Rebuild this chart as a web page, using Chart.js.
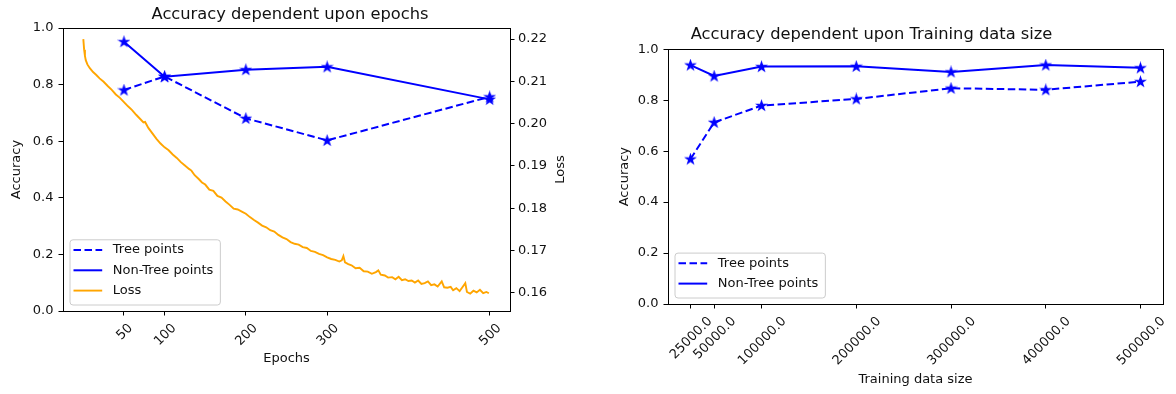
<!DOCTYPE html>
<html><head><meta charset="utf-8">
<script src="https://cdn.jsdelivr.net/npm/chart.js@4.4.1/dist/chart.umd.min.js"></script>
<style>
html,body{margin:0;padding:0;background:#fff;}
#wrap{position:relative;width:1176px;height:394px;overflow:hidden;background:#fff;}
canvas{position:absolute;top:0;}
#c1{left:0;} #c2{left:580px;}
</style></head><body>
<div id="wrap"><canvas id="c1" width="580" height="394"></canvas><canvas id="c2" width="596" height="394"></canvas></div>
<script>
// ---------- data ----------
const epochs = [50, 100, 200, 300, 500];
const epochTickLabels = ['50', '100', '200', '300', '500'];
const epochTreeAcc = [0.781, 0.829, 0.681, 0.603, 0.757];
const epochNonTreeAcc = [0.952, 0.828, 0.853, 0.863, 0.748];

const lossEpochs = [
  0,1,2,3,5,8,12,16,20,25,
  30,35,40,45,50,55,60,65,70,74,
  76,80,85,90,95,100,105,110,115,120,
  125,130,133,137,142,146,150,155,160,165,
  170,175,180,185,190,195,200,205,210,215,
  220,225,230,235,240,245,250,255,260,265,
  270,275,280,285,290,295,300,305,310,315,
  318,320,322,326,330,335,340,345,350,355,
  360,363,366,371,375,380,384,388,392,396,
  400,404,408,412,416,420,424,428,432,436,
  441,444,448,452,455,459,463,466,470,472,
  476,480,484,488,492,496,499
];
const lossValues = [
  0.2200,0.2175,0.2160,0.2150,0.2140,0.2131,0.2122,0.2115,0.2107,0.2099,
  0.2089,0.2080,0.2069,0.2061,0.2051,0.2041,0.2032,0.2021,0.2011,0.2003,
  0.2004,0.1990,0.1977,0.1964,0.1953,0.1944,0.1937,0.1927,0.1919,0.1909,
  0.1901,0.1893,0.1889,0.1878,0.1869,0.1861,0.1856,0.1844,0.1841,0.1829,
  0.1825,0.1816,0.1808,0.1799,0.1797,0.1792,0.1787,0.1779,0.1772,0.1766,
  0.1759,0.1755,0.1748,0.1745,0.1737,0.1731,0.1727,0.1720,0.1716,0.1714,
  0.1708,0.1706,0.1699,0.1697,0.1692,0.1689,0.1684,0.1680,0.1678,0.1674,
  0.1677,0.1687,0.1672,0.1668,0.1665,0.1658,0.1659,0.1651,0.1650,0.1645,
  0.1649,0.1653,0.1643,0.1641,0.1636,0.1637,0.1632,0.1638,0.1630,0.1632,
  0.1628,0.1629,0.1624,0.1629,0.1621,0.1623,0.1627,0.1618,0.1620,0.1615,
  0.1627,0.1613,0.1612,0.1614,0.1606,0.1611,0.1604,0.1612,0.1623,0.1602,
  0.1598,0.1605,0.1601,0.1607,0.1599,0.1602,0.1599
];

const accTicks = [0, 0.2, 0.4, 0.6, 0.8, 1.0];
const accTickLabels = ['0.0', '0.2', '0.4', '0.6', '0.8', '1.0'];
const lossTicks = [0.16, 0.17, 0.18, 0.19, 0.20, 0.21, 0.22];
const lossTickLabels = ['0.16', '0.17', '0.18', '0.19', '0.20', '0.21', '0.22'];

const sizes = [25000, 50000, 100000, 200000, 300000, 400000, 500000];
const sizeTickLabels = ['25000.0', '50000.0', '100000.0', '200000.0', '300000.0', '400000.0', '500000.0'];
const sizeTreeAcc = [0.569, 0.713, 0.779, 0.805, 0.847, 0.841, 0.873];
const sizeNonTreeAcc = [0.938, 0.895, 0.932, 0.933, 0.911, 0.938, 0.927];

// ---------- styling ----------
const FAMILY = '"DejaVu Sans", "Liberation Sans", sans-serif';
const TICK_FS = 13;
const LEG_FS = 13;
const TITLE_FS = 16.3;
const TXT = '#111';
const BLUE = '#0000ff';
const ORANGE = '#ffa500';

Chart.defaults.font.family = FAMILY;
Chart.defaults.color = TXT;
Chart.defaults.animation = false;

const star = (() => {
  const c = document.createElement('canvas');
  c.width = 13; c.height = 13;
  const g = c.getContext('2d');
  g.fillStyle = BLUE; g.strokeStyle = BLUE; g.lineWidth = 1.1; g.lineJoin = 'miter';
  g.beginPath();
  for (let i = 0; i < 10; i++) {
    const r = i % 2 ? 1.9 : 5.0;
    const a = -Math.PI / 2 + i * Math.PI / 5;
    const px = 6.5 + r * Math.cos(a), py = 6.8 + r * Math.sin(a);
    if (i) g.lineTo(px, py); else g.moveTo(px, py);
  }
  g.closePath(); g.fill(); g.stroke();
  return c;
})();

function fixSize(prop, size) {
  return s => {
    s[prop] = size;
    s.paddingLeft = 0; s.paddingRight = 0; s.paddingTop = 0; s.paddingBottom = 0;
  };
}
function setTicks(vals) {
  return s => { s.ticks = vals.map(v => ({ value: v })); };
}
const gridOpts = { drawOnChartArea: false, drawTicks: true, tickLength: 4.5, color: '#000', lineWidth: 1 };

function roundRect(ctx, x, y, w, h, r) {
  ctx.beginPath();
  ctx.moveTo(x + r, y);
  ctx.lineTo(x + w - r, y); ctx.quadraticCurveTo(x + w, y, x + w, y + r);
  ctx.lineTo(x + w, y + h - r); ctx.quadraticCurveTo(x + w, y + h, x + w - r, y + h);
  ctx.lineTo(x + r, y + h); ctx.quadraticCurveTo(x, y + h, x, y + h - r);
  ctx.lineTo(x, y + r); ctx.quadraticCurveTo(x, y, x + r, y);
  ctx.closePath();
}

const decor = {
  id: 'decor',
  afterDraw(chart, args, opts) {
    const ctx = chart.ctx, ca = chart.chartArea;
    ctx.save();
    // full frame (all four spines)
    ctx.strokeStyle = '#000'; ctx.lineWidth = 1; ctx.setLineDash([]);
    ctx.strokeRect(Math.round(ca.left) + 0.5, Math.round(ca.top) + 0.5,
                   Math.round(ca.right) - Math.round(ca.left), Math.round(ca.bottom) - Math.round(ca.top));
    // rotated x tick labels, centred under ticks
    const xs = chart.scales.x;
    ctx.fillStyle = TXT;
    ctx.font = TICK_FS + 'px ' + FAMILY;
    xs.ticks.forEach((t, i) => {
      const txt = opts.xLabels[i];
      const x = xs.getPixelForValue(t.value);
      const w = ctx.measureText(txt).width, h = TICK_FS * 1.164;
      const cy = ca.bottom + opts.labelGap + (w + h) * Math.SQRT1_2 / 2;
      ctx.save();
      ctx.translate(x, cy); ctx.rotate(-Math.PI / 4);
      ctx.textAlign = 'center'; ctx.textBaseline = 'alphabetic';
      ctx.fillText(txt, 0, TICK_FS * 0.346);
      ctx.restore();
    });
    // secondary axis title
    if (opts.rightTitle) {
      ctx.save();
      ctx.font = TICK_FS + 'px ' + FAMILY;
      ctx.translate(opts.rightTitleX, (ca.top + ca.bottom) / 2);
      ctx.rotate(-Math.PI / 2);
      ctx.textAlign = 'center'; ctx.textBaseline = 'middle';
      ctx.fillText(opts.rightTitle, 0, 0);
      ctx.restore();
    }
    // legend (lower left inside axes)
    const ds = chart.data.datasets;
    ctx.font = LEG_FS + 'px ' + FAMILY;
    const textW = Math.max(...ds.map(d => ctx.measureText(d.label).width));
    const rowH = 20.3;
    const boxW = 43.3 + textW + 6.5, boxH = ds.length * rowH + 4.3;
    const left = ca.left + 6.5, top = ca.bottom - 6.5 - boxH;
    roundRect(ctx, left + 0.5, top + 0.5, boxW, boxH, 3);
    ctx.fillStyle = 'rgba(255,255,255,0.8)'; ctx.fill();
    ctx.strokeStyle = '#cccccc'; ctx.lineWidth = 1; ctx.stroke();
    ds.forEach((d, i) => {
      const y = top + 10.7 + i * rowH;
      ctx.strokeStyle = d.borderColor; ctx.lineWidth = d.borderWidth;
      ctx.setLineDash(d.borderDash || []);
      ctx.beginPath(); ctx.moveTo(left + 4, y); ctx.lineTo(left + 32.7, y); ctx.stroke();
      ctx.setLineDash([]);
      ctx.fillStyle = TXT; ctx.textAlign = 'left'; ctx.textBaseline = 'middle';
      ctx.fillText(d.label, left + 43.3, y);
    });
    ctx.restore();
  }
};

const bg = {
  id: 'bg',
  beforeDraw(chart) {
    const c = chart.ctx; c.save(); c.fillStyle = '#fff'; c.fillRect(0, 0, chart.width, chart.height); c.restore();
  }
};

const tickFont = { family: FAMILY, size: TICK_FS };

// ---------- chart 1: epochs ----------
new Chart(document.getElementById('c1'), {
  type: 'line',
  data: {
    datasets: [
      { label: 'Tree points', data: epochs.map((e, i) => ({ x: e, y: epochTreeAcc[i] })), yAxisID: 'y',
        borderColor: BLUE, borderWidth: 2, borderDash: [7.5, 3.5], pointStyle: star, pointRadius: 5, tension: 0 },
      { label: 'Non-Tree points', data: epochs.map((e, i) => ({ x: e, y: epochNonTreeAcc[i] })), yAxisID: 'y',
        borderColor: BLUE, borderWidth: 2, pointStyle: star, pointRadius: 5, tension: 0 },
      { label: 'Loss', data: lossEpochs.map((e, i) => ({ x: e, y: lossValues[i] })), yAxisID: 'y2',
        borderColor: ORANGE, borderWidth: 1.9, pointRadius: 0, tension: 0 }
    ]
  },
  options: {
    responsive: false, animation: false, devicePixelRatio: 1,
    layout: { padding: 0 },
    plugins: {
      legend: { display: false }, tooltip: { enabled: false },
      title: { display: true, text: 'Accuracy dependent upon epochs', color: TXT,
               font: { family: FAMILY, size: TITLE_FS, weight: 'normal' }, padding: { top: 4.7, bottom: 3.8 } },
      decor: { xLabels: epochTickLabels, labelGap: 9, rightTitle: 'Loss', rightTitleX: 561 }
    },
    scales: {
      x: { type: 'linear', position: 'bottom', min: -25, max: 525,
           afterBuildTicks: setTicks(epochs), afterFit: fixSize('height', 83),
           ticks: { display: false }, grid: gridOpts, border: { display: false },
           title: { display: true, text: 'Epochs', color: TXT, font: tickFont, padding: { top: 0, bottom: 27.9 } } },
      y: { type: 'linear', position: 'left', min: 0, max: 1,
           afterBuildTicks: setTicks(accTicks), afterFit: fixSize('width', 63),
           ticks: { font: tickFont, color: TXT, padding: 5, callback: (v, i) => accTickLabels[i] },
           grid: gridOpts, border: { display: false },
           title: { display: true, text: 'Accuracy', color: TXT, font: tickFont, padding: { top: 8.9, bottom: 0 } } },
      y2: { type: 'linear', position: 'right', min: 0.1557, max: 0.2226,
            afterBuildTicks: setTicks(lossTicks), afterFit: fixSize('width', 70),
            ticks: { font: tickFont, color: TXT, padding: 3.5, callback: (v, i) => lossTickLabels[i] },
            grid: gridOpts, border: { display: false } }
    }
  },
  plugins: [bg, decor]
});

// ---------- chart 2: training data size ----------
new Chart(document.getElementById('c2'), {
  type: 'line',
  data: {
    datasets: [
      { label: 'Tree points', data: sizes.map((s, i) => ({ x: s, y: sizeTreeAcc[i] })),
        borderColor: BLUE, borderWidth: 2, borderDash: [7.5, 3.5], pointStyle: star, pointRadius: 5, tension: 0 },
      { label: 'Non-Tree points', data: sizes.map((s, i) => ({ x: s, y: sizeNonTreeAcc[i] })),
        borderColor: BLUE, borderWidth: 2, pointStyle: star, pointRadius: 5, tension: 0 }
    ]
  },
  options: {
    responsive: false, animation: false, devicePixelRatio: 1,
    layout: { padding: { left: 0, right: 13, top: 0, bottom: 0 } },
    plugins: {
      legend: { display: false }, tooltip: { enabled: false },
      title: { display: true, text: 'Accuracy dependent upon Training data size', color: TXT,
               font: { family: FAMILY, size: TITLE_FS, weight: 'normal' }, padding: { top: 25.2, bottom: 4.5 } },
      decor: { xLabels: sizeTickLabels, labelGap: 9 }
    },
    scales: {
      x: { type: 'linear', position: 'bottom', min: 1250, max: 523750,
           afterBuildTicks: setTicks(sizes), afterFit: fixSize('height', 90),
           ticks: { display: false }, grid: gridOpts, border: { display: false },
           title: { display: true, text: 'Training data size', color: TXT, font: tickFont, padding: { top: 0, bottom: 6.2 } } },
      y: { type: 'linear', position: 'left', min: 0, max: 1,
           afterBuildTicks: setTicks(accTicks), afterFit: fixSize('width', 88),
           ticks: { font: tickFont, color: TXT, padding: 5, callback: (v, i) => accTickLabels[i] },
           grid: gridOpts, border: { display: false },
           title: { display: true, text: 'Accuracy', color: TXT, font: tickFont, padding: { top: 36.6, bottom: 0 } } }
    }
  },
  plugins: [bg, decor]
});
</script>
</body></html>
